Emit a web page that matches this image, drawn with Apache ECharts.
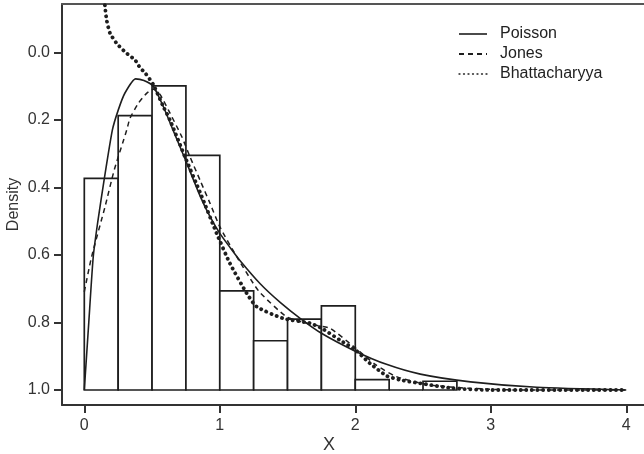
<!DOCTYPE html>
<html>
<head>
<meta charset="utf-8">
<script src="https://cdn.jsdelivr.net/npm/echarts@6/dist/echarts.min.js"></script>
<style>
  html, body { margin: 0; padding: 0; background: #fff; }
  #chart { width: 644px; height: 454px; }
</style>
</head>
<body>
<div id="chart"></div>
<script>
// histogram (bins of 0.25, hanging from the 1.0 line)
var binEdges = [0, 0.25, 0.5, 0.75, 1.0, 1.25, 1.5, 1.75, 2.0, 2.25, 2.5, 2.75];
var binTops = [0.373, 0.187, 0.099, 0.305, 0.706, 0.854, 0.790, 0.751, 0.969, 1.0, 0.974];
var histBase = 1.0;

// Poisson (solid)
var poissonX = [0, 0.033, 0.066, 0.1, 0.148, 0.207, 0.251, 0.3, 0.379, 0.44, 0.509, 0.583, 0.66, 0.743, 0.86, 0.93, 1.0, 1.08, 1.15, 1.3, 1.45, 1.6, 1.75, 2.0, 2.23, 2.48, 2.85, 3.34, 4.0];
var poissonY = [1.0, 0.80, 0.605, 0.50, 0.373, 0.23, 0.17, 0.12, 0.078, 0.083, 0.10, 0.16, 0.235, 0.315, 0.43, 0.488, 0.536, 0.58, 0.617, 0.686, 0.742, 0.79, 0.832, 0.885, 0.924, 0.953, 0.976, 0.992, 1.0];

// Jones (dashed)
var jonesX = [0, 0.054, 0.153, 0.221, 0.313, 0.337, 0.40, 0.46, 0.51, 0.56, 0.62, 0.719, 0.78, 0.854, 0.928, 1.0, 1.125, 1.247, 1.30, 1.494, 1.69, 1.813, 2.0, 2.15, 2.3, 2.55, 2.85, 3.2, 4.0];
var jonesY = [0.709, 0.605, 0.457, 0.348, 0.23, 0.195, 0.15, 0.121, 0.109, 0.125, 0.17, 0.249, 0.309, 0.378, 0.447, 0.516, 0.605, 0.684, 0.713, 0.783, 0.807, 0.817, 0.875, 0.925, 0.96, 0.985, 0.995, 1.0, 1.0];

// Bhattacharyya (dotted)
var bhattX = [0.14, 0.153, 0.165, 0.19, 0.239, 0.3, 0.374, 0.411, 0.448, 0.509, 0.583, 0.632, 0.743, 0.86, 0.977, 1.075, 1.198, 1.272, 1.469, 1.666, 1.752, 1.886, 2.0, 2.108, 2.232, 2.33, 2.478, 2.723, 3.0, 4.0];
var bhattY = [-0.19, -0.136, -0.096, -0.057, -0.027, -0.002, 0.022, 0.045, 0.06, 0.095, 0.16, 0.2, 0.309, 0.42, 0.536, 0.625, 0.713, 0.753, 0.788, 0.802, 0.817, 0.852, 0.881, 0.921, 0.958, 0.97, 0.98, 0.995, 1.0, 1.0];

var xTicks = [0, 1, 2, 3, 4];
var yTicks = [0, 0.2, 0.4, 0.6, 0.8, 1.0];

function pairs(xs, ys) {
    return xs.map(function (x, i) { return [x, ys[i]]; });
}

var histData = binTops.map(function (t, i) {
    return [binEdges[i], binEdges[i + 1], t];
});

var ink = '#1e1e1e';
var font = 'Liberation Sans, Arial, sans-serif';

var chart = echarts.init(document.getElementById('chart'));

chart.setOption({
    animation: false,
    backgroundColor: '#fff',
    grid: { left: 62, right: 0, top: 4, bottom: 49, outerBoundsMode: 'none', containLabel: false },
    legend: {
        orient: 'vertical',
        left: 453,
        top: 21,
        itemWidth: 28,
        itemHeight: 14,
        itemGap: 4,
        itemStyle: { opacity: 0 },
        textStyle: { fontFamily: font, fontSize: 16, color: '#222', padding: [0, 0, 0, 8] },
        data: [
            { name: 'Poisson', lineStyle: { width: 1.6, type: 'solid' } },
            { name: 'Jones', lineStyle: { width: 2, type: [5, 4] } },
            { name: 'Bhattacharyya', lineStyle: { width: 1.3, type: [1, 3.5] } }
        ]
    },
    xAxis: [{
        type: 'value',
        min: -0.1646,
        max: 4.131,
        splitLine: { show: false },
        axisLine: { onZero: false, lineStyle: { color: '#333', width: 2 } },
        axisTick: { customValues: xTicks, length: 8, lineStyle: { color: '#333', width: 2 } },
        axisLabel: {
            customValues: xTicks, margin: 13,
            fontFamily: font, fontSize: 16, color: '#333'
        }
    }, {
        type: 'value',
        position: 'top',
        min: -0.1646,
        max: 4.131,
        splitLine: { show: false },
        axisLine: { onZero: false, lineStyle: { color: '#555', width: 2 } },
        axisTick: { show: false },
        axisLabel: { show: false }
    }],
    yAxis: {
        type: 'value',
        inverse: true,
        min: -0.1437,
        max: 1.0444,
        name: 'Density',
        nameLocation: 'middle',
        nameGap: 40,
        nameMoveOverlap: false,
        nameTextStyle: { fontFamily: font, fontSize: 16, color: '#333' },
        splitLine: { show: false },
        axisLine: { show: true, onZero: false, lineStyle: { color: '#333', width: 2 } },
        axisTick: { customValues: yTicks, length: 8, lineStyle: { color: '#333', width: 2 } },
        axisLabel: {
            customValues: yTicks, margin: 12,
            fontFamily: font, fontSize: 16, color: '#333',
            formatter: function (v) { return v.toFixed(1); }
        }
    },
    graphic: [{
        type: 'text',
        left: 323,
        top: 436,
        style: { text: 'X', fontFamily: font, fontSize: 18, fill: '#333' }
    }],
    series: [{
        type: 'custom',
        name: 'hist',
        z: 1,
        encode: { x: [0, 1], y: 2 },
        data: histData,
        renderItem: function (params, api) {
            var p0 = api.coord([api.value(0), histBase]);
            var p1 = api.coord([api.value(1), api.value(2)]);
            return {
                type: 'rect',
                shape: {
                    x: p0[0],
                    y: Math.min(p0[1], p1[1]),
                    width: p1[0] - p0[0],
                    height: Math.abs(p1[1] - p0[1])
                },
                style: { fill: '#fff', stroke: ink, lineWidth: 1.7 }
            };
        }
    }, {
        type: 'line',
        name: 'Poisson',
        z: 3,
        showSymbol: false,
        symbol: 'none',
        smooth: 0.2,
        color: ink,
        lineStyle: { color: ink, width: 1.6 },
        data: pairs(poissonX, poissonY)
    }, {
        type: 'line',
        name: 'Jones',
        z: 3,
        showSymbol: false,
        symbol: 'none',
        smooth: 0.2,
        color: ink,
        lineStyle: { color: ink, width: 1.5, type: [5, 4] },
        data: pairs(jonesX, jonesY)
    }, {
        type: 'line',
        name: 'Bhattacharyya',
        z: 3,
        showSymbol: false,
        symbol: 'none',
        smooth: 0.2,
        color: ink,
        lineStyle: { color: ink, width: 3.8, type: [0.1, 5.5], cap: 'round' },
        data: pairs(bhattX, bhattY)
    }]
});
</script>
</body>
</html>
